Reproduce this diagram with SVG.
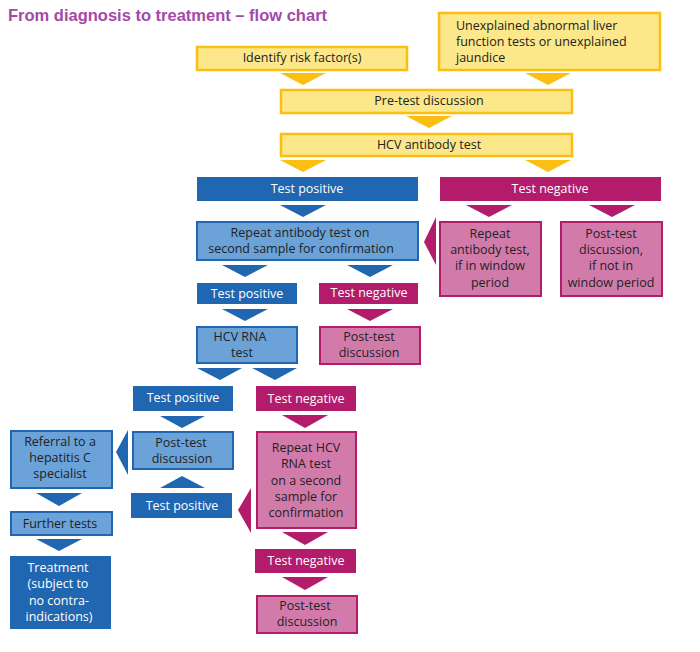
<svg xmlns="http://www.w3.org/2000/svg" width="700" height="652" viewBox="0 0 700 652">
<style>
text{font-family:"Open Sans","Liberation Sans",sans-serif;font-size:12.5px;text-anchor:middle;fill:#222}
.y{fill:#fce78a;stroke:#fbbe12;stroke-width:2.5}
.db{fill:#2166b0}
.dm{fill:#b31b6b}
.lb{fill:#6ba2d8;stroke:#2166b0;stroke-width:2}
.lp{fill:#d27bab;stroke:#b31b6b;stroke-width:2}
.w{fill:#fff}
.ya{fill:#fbbe12}.ba{fill:#2166b0}.ma{fill:#b31b6b}
</style>
<rect width="700" height="652" fill="#fff"/>
<text x="8" y="21" style="text-anchor:start;font-size:16.5px;font-weight:bold;fill:#a24aa6;font-family:'Liberation Sans',sans-serif">From diagnosis to treatment – flow chart</text>
<g id="connectors">
<polygon class="ya" points="280,73 326,73 303,85"/>
<polygon class="ya" points="525,73 571,73 548,85"/>
<polygon class="ya" points="406,116 452,116 429,128"/>
<polygon class="ya" points="280,160 326,160 303,172"/>
<polygon class="ya" points="525,160 571,160 548,172"/>
<polygon class="ba" points="280,205 326,205 303,217"/>
<polygon class="ma" points="466,205 512,205 489,217"/>
<polygon class="ma" points="589,205 635,205 612,217"/>
<polygon class="ma" points="436,217 436,265 424,242"/>
<polygon class="ba" points="222,265 268,265 245,277"/>
<polygon class="ba" points="347,265 393,265 370,277"/>
<polygon class="ba" points="222,309 268,309 245,321"/>
<polygon class="ma" points="347,309 393,309 370,321"/>
<polygon class="ba" points="197,368 242,368 220,380"/>
<polygon class="ba" points="252,368 297,368 275,380"/>
<polygon class="ba" points="160,416 205,416 182,428"/>
<polygon class="ma" points="282,415 328,415 305,428"/>
<polygon class="ba" points="128,430 128,475 116,452"/>
<polygon class="ba" points="160,488 205,488 182,476"/>
<polygon class="ma" points="251,488 251,533 238,510"/>
<polygon class="ba" points="36,493 82,493 59,506"/>
<polygon class="ba" points="36,539 82,539 59,551"/>
<polygon class="ma" points="282,532 328,532 305,545"/>
<polygon class="ma" points="282,577 328,577 305,590"/>
</g>
<g id="risk"><rect class="y" x="197" y="47" width="210" height="23"/><text x="302" y="62">Identify risk factor(s)</text></g>
<g id="unexplained"><rect class="y" x="439" y="13" width="221" height="57"/><text x="456" y="30" style="text-anchor:start">Unexplained abnormal liver</text><text x="456" y="46" style="text-anchor:start">function tests or unexplained</text><text x="456" y="62" style="text-anchor:start">jaundice</text></g>
<g id="pretest"><rect class="y" x="281" y="90" width="291" height="23"/><text x="429" y="105">Pre-test discussion</text></g>
<g id="antibody"><rect class="y" x="281" y="134" width="291" height="22"/><text x="429" y="149">HCV antibody test</text></g>
<g id="pos1"><rect class="db" x="197" y="177" width="221" height="24"/><text class="w" x="307" y="193">Test positive</text></g>
<g id="neg1"><rect class="dm" x="440" y="177" width="221" height="24"/><text class="w" x="550" y="193">Test negative</text></g>
<g id="repeatab"><rect class="lb" x="197" y="222" width="221" height="38"/><text x="300" y="237">Repeat antibody test on</text><text x="301" y="253">second sample for confirmation</text></g>
<g id="repeatwin"><rect class="lp" x="440" y="222" width="101" height="74"/><text x="490" y="238">Repeat</text><text x="490" y="254">antibody test,</text><text x="490" y="270">if in window</text><text x="490" y="287">period</text></g>
<g id="postwin"><rect class="lp" x="561" y="222" width="101" height="74"/><text x="611" y="238">Post-test</text><text x="611" y="254">discussion,</text><text x="611" y="270">if not in</text><text x="611" y="287">window period</text></g>
<g id="pos2"><rect class="db" x="197" y="283" width="100" height="21"/><text class="w" x="247" y="298">Test positive</text></g>
<g id="neg2"><rect class="dm" x="319" y="283" width="99" height="21"/><text class="w" x="369" y="297">Test negative</text></g>
<g id="rna"><rect class="lb" x="197" y="327" width="100" height="36"/><text x="240" y="341">HCV RNA</text><text x="242" y="357">test</text></g>
<g id="post2"><rect class="lp" x="320" y="327" width="100" height="37"/><text x="369" y="341">Post-test</text><text x="369" y="357">discussion</text></g>
<g id="pos3"><rect class="db" x="133" y="386" width="100" height="25"/><text class="w" x="183" y="402">Test positive</text></g>
<g id="neg3"><rect class="dm" x="256" y="386" width="100" height="25"/><text class="w" x="306" y="403">Test negative</text></g>
<g id="post3"><rect class="lb" x="133" y="432" width="100" height="37"/><text x="181" y="447">Post-test</text><text x="182" y="463">discussion</text></g>
<g id="referral"><rect class="lb" x="11" y="431" width="101" height="57"/><text x="60" y="446">Referral to a</text><text x="60" y="462">hepatitis C</text><text x="60" y="478">specialist</text></g>
<g id="repeatrna"><rect class="lp" x="257" y="432" width="99" height="96"/><text x="306" y="452">Repeat HCV</text><text x="306" y="468">RNA test</text><text x="306" y="485">on a second</text><text x="306" y="501">sample for</text><text x="306" y="517">confirmation</text></g>
<g id="pos4"><rect class="db" x="131" y="493" width="101" height="25"/><text class="w" x="182" y="510">Test positive</text></g>
<g id="further"><rect class="lb" x="11" y="512" width="101" height="23"/><text x="60" y="528">Further tests</text></g>
<g id="treatment"><rect class="db" x="10" y="556" width="101" height="73"/><text class="w" x="58" y="572">Treatment</text><text class="w" x="58" y="588">(subject to</text><text class="w" x="59" y="605">no contra-</text><text class="w" x="59" y="621">indications)</text></g>
<g id="neg4"><rect class="dm" x="255" y="549" width="101" height="24"/><text class="w" x="306" y="565">Test negative</text></g>
<g id="post4"><rect class="lp" x="257" y="596" width="100" height="37"/><text x="305" y="610">Post-test</text><text x="307" y="626">discussion</text></g>
</svg>
